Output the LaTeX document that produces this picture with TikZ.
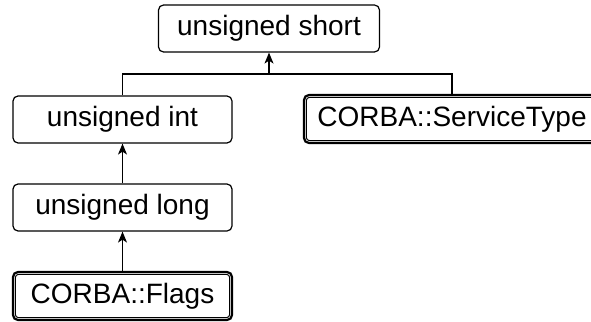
\documentclass[tikz,border=0pt]{standalone}
\usepackage{fontspec}
\setmainfont{Liberation Sans}
\usetikzlibrary{arrows.meta}
\begin{document}
\begin{tikzpicture}[x=1pt,y=-1pt,
  box/.style={draw, line width=1.2pt, rounded corners=5pt, inner sep=0pt, font=\fontsize{28}{30}\selectfont},
  dbox/.style={box, line width=2.2pt},
  link/.style={line width=1.3pt},
  arr/.style={link, -{Stealth[length=11pt,width=9pt,inset=3pt]}}]
\useasboundingbox (0,0) rectangle (591,321);
\node[box, minimum width=221pt, minimum height=47pt] (us) at (269,28.5) {unsigned short};
\node[box, minimum width=219pt, minimum height=47pt] (ui) at (122.5,119.5) {unsigned int};
\node[box, minimum width=219pt, minimum height=47pt] (ul) at (122.5,207.5) {unsigned long};
\node[dbox, minimum width=219pt, minimum height=48pt] (fl) at (122.5,296) {CORBA::Flags};
\node[dbox, minimum width=296pt, minimum height=48pt] (st) at (452,119) {CORBA::ServiceType};
\draw[line width=1pt, rounded corners=3pt] ([shift={(3.5pt,-3.5pt)}]fl.north west) rectangle ([shift={(-3.5pt,3.5pt)}]fl.south east);
\draw[line width=1pt, rounded corners=3pt] ([shift={(3.5pt,-3.5pt)}]st.north west) rectangle ([shift={(-3.5pt,3.5pt)}]st.south east);
\coordinate (j) at (269,74);
\draw[link] (ui.north) |- (j) -| (st.north);
\draw[arr] (j) -- (us.south);
\draw[arr] (ul.north) -- (ui.south);
\draw[arr] (fl.north) -- (ul.south);
\end{tikzpicture}
\end{document}
